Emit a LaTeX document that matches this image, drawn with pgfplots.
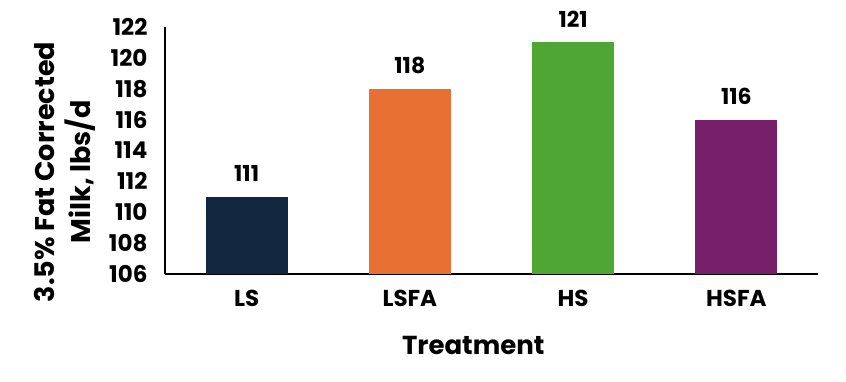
\documentclass[border=0pt]{standalone}
\usepackage{pgfplots}
\pgfplotsset{compat=1.18}
\usepackage{fontspec}
\setmainfont{Poppins}[BoldFont={* Bold}]
\definecolor{cNavy}{HTML}{10273F}
\definecolor{cOrange}{HTML}{E87033}
\definecolor{cGreen}{HTML}{50A632}
\definecolor{cPurple}{HTML}{76206A}
\begin{document}
\begin{tikzpicture}
\path (-165pt,-108pt) rectangle (681pt,274pt);
\begin{axis}[
  at={(0,0)}, anchor=south west,
  scale only axis, width=653pt, height=247pt,
  xmin=-0.5, xmax=3.5, ymin=106, ymax=122,
  ytick={106,108,...,122},
  xtick={0,1,2,3}, xticklabels={LS,LSFA,HS,HSFA},
  axis lines*=left,
  axis line style={line width=1.3pt, black},
  major tick length=0pt,
  /pgf/number format/assume math mode=true,
  ticklabel style={font=\fontsize{23}{26}\selectfont\bfseries},
  yticklabel style={xshift=-14pt},
  xticklabel style={yshift=-13pt},
  xlabel={Treatment},
  xlabel style={font=\fontsize{26}{30}\selectfont\bfseries, at={(axis description cs:0.472,-0.29)}, anchor=center},
  ylabel={3.5\% Fat Corrected\\Milk, lbs/d},
  ylabel style={font=\fontsize{27}{36}\selectfont\bfseries, align=center, at={(axis description cs:-0.153,0.413)}, anchor=center},
  ybar, bar width=82pt,
  nodes near coords,
  every node near coord/.append style={font=\fontsize{22}{24}\selectfont\bfseries, anchor=south, inner sep=0pt, yshift=15pt, black},
  clip=false,
]
\addplot[fill=cNavy, draw=none, bar shift=0pt] coordinates {(0,111)};
\addplot[fill=cOrange, draw=none, bar shift=0pt] coordinates {(1,118)};
\addplot[fill=cGreen, draw=none, bar shift=0pt] coordinates {(2,121)};
\addplot[fill=cPurple, draw=none, bar shift=0pt] coordinates {(3,116)};
\end{axis}
\end{tikzpicture}
\end{document}
